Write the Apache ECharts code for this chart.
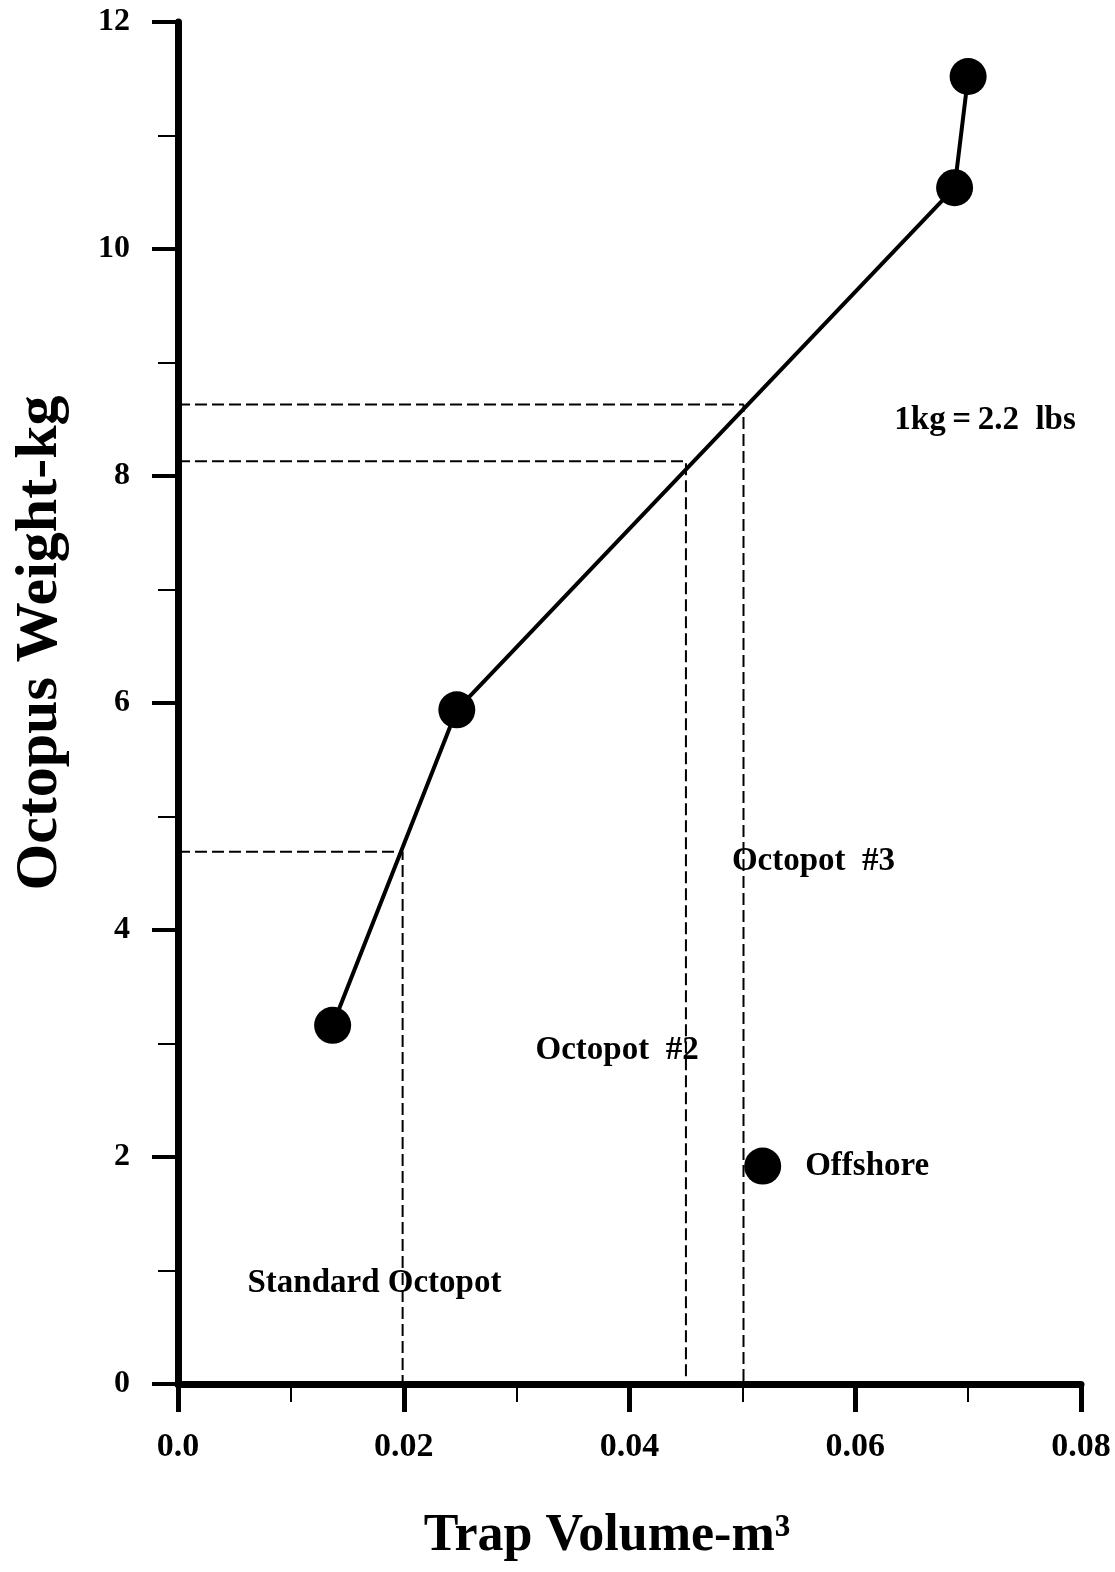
<!DOCTYPE html>
<html>
<head>
<meta charset="utf-8">
<script src="https://cdn.jsdelivr.net/npm/echarts@6/dist/echarts.min.js"></script>
<style>
html,body{margin:0;padding:0;background:#fff;}
#chart{width:1115px;height:1572px;}
</style>
</head>
<body>
<div id="chart"></div>
<script>
// Main curve: trap volume (m^3) vs octopus weight (kg)
const curveX = [0.0137, 0.0247, 0.0688, 0.0700];
const curveY = [3.16, 5.94, 10.54, 11.52];

// Offshore trap point
const offshoreX = [0.0518];
const offshoreY = [1.92];
const offshoreName = ['Offshore'];

// Dashed reference lines (trap volume -> weight)
const refX = [0.0199, 0.0450, 0.0501];
const refY = [4.69, 8.13, 8.63];

// Annotations
const noteText = ['Standard Octopot', 'Octopot  #2', 'Octopot  #3', '1kg\u2009=\u20092.2  lbs'];
const noteX = [0.0174, 0.0389, 0.0563, 0.0715];
const noteY = [0.89, 2.94, 4.60, 8.49];

// Axis ticks
const xTicks = [0, 0.02, 0.04, 0.06, 0.08];
const xTickLabels = ['0.0', '0.02', '0.04', '0.06', '0.08'];
const yTicks = [0, 2, 4, 6, 8, 10, 12];

const FONT = '"Liberation Serif", "Times New Roman", serif';

const chart = echarts.init(document.getElementById('chart'), null, {renderer: 'canvas'});

const series = [];
series.push({
  type: 'line',
  data: curveX.map((x, i) => [x, curveY[i]]),
  symbol: 'circle',
  symbolSize: 37,
  itemStyle: {color: '#000', opacity: 1},
  lineStyle: {color: '#000', width: 4},
  z: 5,
  animation: false
});
refX.forEach((x, i) => {
  series.push({
    type: 'line',
    data: [[0, refY[i]], [x, refY[i]], [x, 0]],
    symbol: 'none',
    lineStyle: {color: '#000', width: 2, type: [12, 5]},
    z: 3,
    animation: false
  });
});
series.push({
  type: 'scatter',
  data: offshoreX.map((x, i) => [x, offshoreY[i], offshoreName[i]]),
  symbol: 'circle',
  symbolSize: 37,
  itemStyle: {color: '#000', opacity: 1},
  label: {
    show: true, position: 'right', distance: 24,
    formatter: p => p.value[2],
    fontFamily: FONT, fontWeight: 'bold', fontSize: 33, color: '#000'
  },
  z: 5,
  animation: false
});
series.push({
  type: 'scatter',
  data: noteX.map((x, i) => [x, noteY[i], noteText[i]]),
  symbolSize: 0,
  itemStyle: {opacity: 1},
  label: {
    show: true, position: 'inside',
    formatter: p => p.value[2],
    fontFamily: FONT, fontWeight: 'bold', fontSize: 33, color: '#000'
  },
  silent: true,
  animation: false
});

const xLabelMap = {};
xTicks.forEach((t, i) => { xLabelMap[t.toFixed(2)] = xTickLabels[i]; });

chart.setOption({
  animation: false,
  backgroundColor: '#fff',
  grid: {left: 178, right: 34, top: 22, bottom: 188, containLabel: false},
  xAxis: {
    type: 'value',
    min: xTicks[0], max: xTicks[xTicks.length - 1], interval: 0.02,
    axisLine: {show: true, onZero: false, lineStyle: {color: '#000', width: 7}},
    axisTick: {show: true, inside: false, length: 28, lineStyle: {color: '#000', width: 5}},
    minorTick: {show: true, splitNumber: 2, length: 18, lineStyle: {color: '#000', width: 2}},
    splitLine: {show: false},
    axisLabel: {
      margin: 46, fontFamily: FONT, fontWeight: 'bold', fontSize: 34, color: '#000',
      formatter: v => xLabelMap[v.toFixed(2)] || ''
    }
  },
  yAxis: {
    type: 'value',
    min: yTicks[0], max: yTicks[yTicks.length - 1], interval: 2,
    axisLine: {show: true, onZero: false, lineStyle: {color: '#000', width: 7}},
    axisTick: {show: true, inside: false, length: 26, lineStyle: {color: '#000', width: 4}},
    minorTick: {show: true, splitNumber: 2, length: 20, lineStyle: {color: '#000', width: 2}},
    splitLine: {show: false},
    axisLabel: {
      margin: 48, fontFamily: FONT, fontWeight: 'bold', fontSize: 32, color: '#000'
    }
  },
  graphic: [
    {
      type: 'text',
      x: 607, y: 1537,
      style: {
        text: 'Trap Volume-m\u00B3',
        font: 'bold 52px ' + FONT,
        fill: '#000',
        textAlign: 'center',
        textVerticalAlign: 'middle'
      }
    },
    {
      type: 'text',
      x: 40, y: 643,
      rotation: Math.PI / 2,
      style: {
        text: 'Octopus Weight-kg',
        font: 'bold 60px ' + FONT,
        fill: '#000',
        textAlign: 'center',
        textVerticalAlign: 'middle'
      }
    }
  ],
  series: series
});
</script>
</body>
</html>
